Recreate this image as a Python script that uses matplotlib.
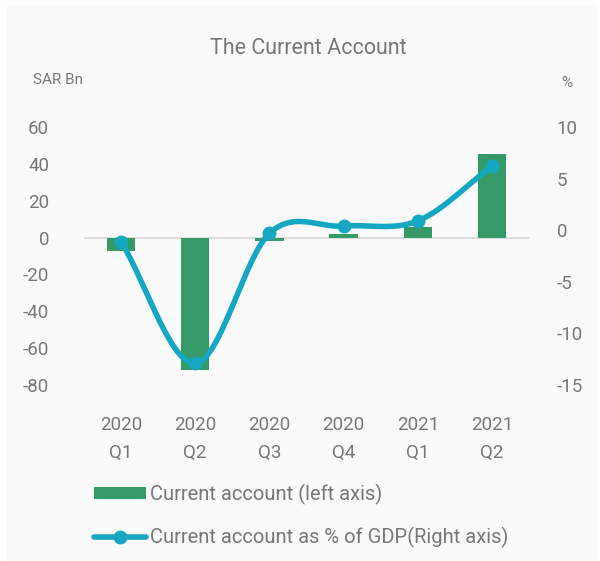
import matplotlib
matplotlib.use("Agg")
import matplotlib.pyplot as plt
from matplotlib import patches
from matplotlib.lines import Line2D
import numpy as np

# chart data
years = ["2020", "2020", "2020", "2020", "2021", "2021"]
quarters = ["Q1", "Q2", "Q3", "Q4", "Q1", "Q2"]
current_account = [-7.5, -72, -2, 2, 6, 45.5]        # SAR Bn, left axis
ca_pct_gdp = [-1.1, -12.9, -0.3, 0.4, 0.9, 6.2]      # % of GDP, right axis

left_ticks = [60, 40, 20, 0, -20, -40, -60, -80]
right_ticks = [10, 5, 0, -5, -10, -15]

GREEN = "#359a67"
TEAL = "#15a6c1"
TEXT = "#777777"
plt.rcParams["font.family"] = ["Roboto", "DejaVu Sans"]
plt.rcParams["axes.unicode_minus"] = False


def smooth(x, y, n=30):
    # catmull-rom style curve through the points, like excel's smoothed line
    x = np.asarray(x, float)
    y = np.asarray(y, float)
    px = np.concatenate([[2 * x[0] - x[1]], x, [2 * x[-1] - x[-2]]])
    py = np.concatenate([[2 * y[0] - y[1]], y, [2 * y[-1] - y[-2]]])
    xs, ys = [], []
    for i in range(1, len(px) - 2):
        t = np.linspace(0, 1, n)
        for p, out in ((px, xs), (py, ys)):
            p0, p1, p2, p3 = p[i - 1], p[i], p[i + 1], p[i + 2]
            m1 = (p2 - p0) / 6.0
            m2 = (p3 - p1) / 6.0
            b1, b2 = p1 + m1, p2 - m2
            out.extend((1 - t) ** 3 * p1 + 3 * (1 - t) ** 2 * t * b1
                       + 3 * (1 - t) * t ** 2 * b2 + t ** 3 * p2)
    return np.array(xs), np.array(ys)


fig = plt.figure(figsize=(6.0, 5.61), dpi=100)
fig.patch.set_facecolor("white")
# light panel behind the chart
fig.patches.append(patches.Rectangle((7 / 600, 0), 591 / 600, 1 - 5 / 561,
                                     transform=fig.transFigure,
                                     facecolor="#fafafa", edgecolor="none",
                                     zorder=-10))

ax = fig.add_axes([84 / 600, 1 - 385 / 561, 445 / 600, 258 / 561])
ax.set_facecolor("none")
x = np.arange(len(quarters))
ax.bar(x, current_account, width=0.38, color=GREEN, zorder=2)
ax.axhline(0, color="#d9d9d9", lw=1.3, zorder=1)
ax.set_xlim(-0.5, len(quarters) - 0.5)
ax.set_ylim(-80, 60)
ax.set_yticks(left_ticks)
ax.set_xticks(x)
ax.set_xticklabels([f"{y}\n{q}" for y, q in zip(years, quarters)],
                   linespacing=1.75)
for s in ax.spines.values():
    s.set_visible(False)
ax.tick_params(length=0, colors=TEXT, labelsize=13.5)
ax.tick_params(axis="y", pad=25)
ax.tick_params(axis="x", pad=22)

ax2 = ax.twinx()
ax2.set_ylim(-15, 10)
ax2.set_yticks(right_ticks)
for s in ax2.spines.values():
    s.set_visible(False)
ax2.tick_params(length=0, colors=TEXT, labelsize=13.5, pad=20)
sx, sy = smooth(x, ca_pct_gdp)
ax2.plot(sx, sy, color=TEAL, lw=4, solid_capstyle="round", zorder=3)
ax2.plot(x, ca_pct_gdp, "o", color=TEAL, ms=9, zorder=4)

fig.text(308 / 600, 1 - 48 / 561, "The Current Account", ha="center",
         va="center", fontsize=15.5, color=TEXT)
fig.text(33 / 600, 1 - 80 / 561, "SAR Bn", ha="left", va="center",
         fontsize=11, color=TEXT)
fig.text(567 / 600, 1 - 83 / 561, "%", ha="center", va="center",
         fontsize=11, color=TEXT)

handles = [patches.Rectangle((0, 0), 1, 1, facecolor=GREEN),
           Line2D([0], [0], color=TEAL, lw=4, marker="o", ms=9,
                  solid_capstyle="round")]
labels = ["Current account (left axis)",
          "Current account as % of GDP(Right axis)"]
fig.legend(handles, labels, loc="upper left",
           bbox_to_anchor=(76 / 600, 1 - 466 / 561), frameon=False,
           fontsize=14.5, labelcolor=TEXT, handlelength=2.6,
           handleheight=0.55, handletextpad=0.15, labelspacing=1.1)

fig.savefig("out.png", dpi=100, facecolor=fig.get_facecolor())
